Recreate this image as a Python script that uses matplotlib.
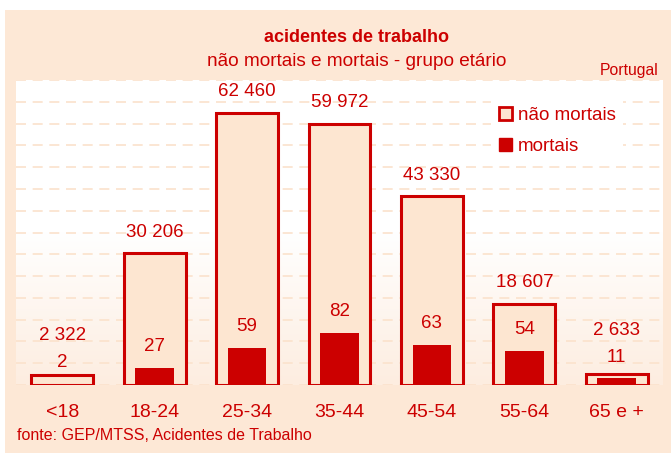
import numpy as np
import matplotlib.pyplot as plt
from matplotlib.patches import Rectangle, Patch
from matplotlib.colors import LinearSegmentedColormap

# data
grupos = ["<18", "18-24", "25-34", "35-44", "45-54", "55-64", "65 e +"]
nao_mortais = [2322, 30206, 62460, 59972, 43330, 18607, 2633]
mortais = [2, 27, 59, 82, 63, 54, 11]

RED = "#CC0000"
PEACH = "#FDE6D1"
BG = "#FDE8D6"
FONT = ["Liberation Sans", "DejaVu Sans"]

W, H = 671, 457
fig = plt.figure(figsize=(W / 100, H / 100), dpi=100)
fig.patch.set_facecolor("white")
fig.patches.append(Rectangle((5 / W, 4 / H), 1, 443 / H, transform=fig.transFigure,
                             facecolor=BG, edgecolor="none", zorder=-10))

ax = fig.add_axes([16 / W, 72 / H, 647 / W, 305 / H])
YMAX1, YMAX2 = 70000, 480
x = np.arange(len(grupos))

# background gradient of the plot area
grad = LinearSegmentedColormap.from_list("g", ["#FDEDE0", "#FFFFFF", "#FFFFFF"])
ax.imshow(np.linspace(0, 1, 256).reshape(-1, 1), extent=[-0.5, 6.5, 0, YMAX1],
          origin="lower", aspect="auto", cmap=grad, zorder=0)

ax.bar(x, nao_mortais, width=0.67, facecolor=PEACH, edgecolor=RED, linewidth=2.2, zorder=2)

ax2 = ax.twinx()
ax2.set_ylim(0, YMAX2)
ax2.axis("off")
ax2.bar(x, mortais, width=0.42, color=RED, zorder=3)

ax.set_xlim(-0.5, 6.5)
ax.set_ylim(0, YMAX1)
ax.set_yticks(np.arange(0, YMAX1 + 1, 5000))
ax.yaxis.grid(True, color="#FBE2CC", linestyle=(0, (6, 4)), linewidth=1.2)
ax.set_axisbelow(True)
for s in ax.spines.values():
    s.set_visible(False)
ax.tick_params(axis="y", left=False, right=False, labelleft=False, labelright=False)
ax.set_xticks(x)
ax.set_xticklabels(grupos, color=RED, fontsize=14, family=FONT)
ax.tick_params(axis="x", length=0, pad=14)

# value labels
axh = 305
for i in range(len(grupos)):
    m_px = mortais[i] / YMAX2 * axh + 21
    ax2.text(i, m_px / axh * YMAX2, str(mortais[i]), ha="center", va="center",
             color=RED, fontsize=13.5, family=FONT)
    n_px = max(nao_mortais[i] / YMAX1 * axh + 21, m_px + 27)
    ax.text(i, n_px / axh * YMAX1, f"{nao_mortais[i]:,}".replace(",", " "),
            ha="center", va="center", color=RED, fontsize=13.5, family=FONT)

handles = [Patch(facecolor=PEACH, edgecolor=RED, linewidth=2, label="não mortais"),
           Patch(facecolor=RED, edgecolor=RED, label="mortais")]
leg = ax.legend(handles=handles, loc="upper left", bbox_to_anchor=(482 / W, 1 - 90 / H),
                bbox_transform=fig.transFigure, frameon=True, fancybox=False,
                facecolor="white", edgecolor="none", framealpha=1,
                handlelength=0.7, handleheight=0.7, handletextpad=0.3,
                labelspacing=0.75, borderpad=0.4, prop={"family": FONT, "size": 13.5})
for t in leg.get_texts():
    t.set_color(RED)

fig.text(357 / W, 1 - 38 / H, "acidentes de trabalho", ha="center", va="center",
         color=RED, fontsize=13, fontweight="bold", family=FONT)
fig.text(357 / W, 1 - 61 / H, "não mortais e mortais - grupo etário", ha="center",
         va="center", color=RED, fontsize=13.7, family=FONT)
fig.text(629 / W, 1 - 70 / H, "Portugal", ha="center", va="center",
         color=RED, fontsize=11.3, family=FONT)
fig.text(17 / W, 1 - 436 / H, "fonte: GEP/MTSS, Acidentes de Trabalho", ha="left",
         va="center", color=RED, fontsize=11.5, family=FONT)

fig.savefig("out.png", dpi=100)
